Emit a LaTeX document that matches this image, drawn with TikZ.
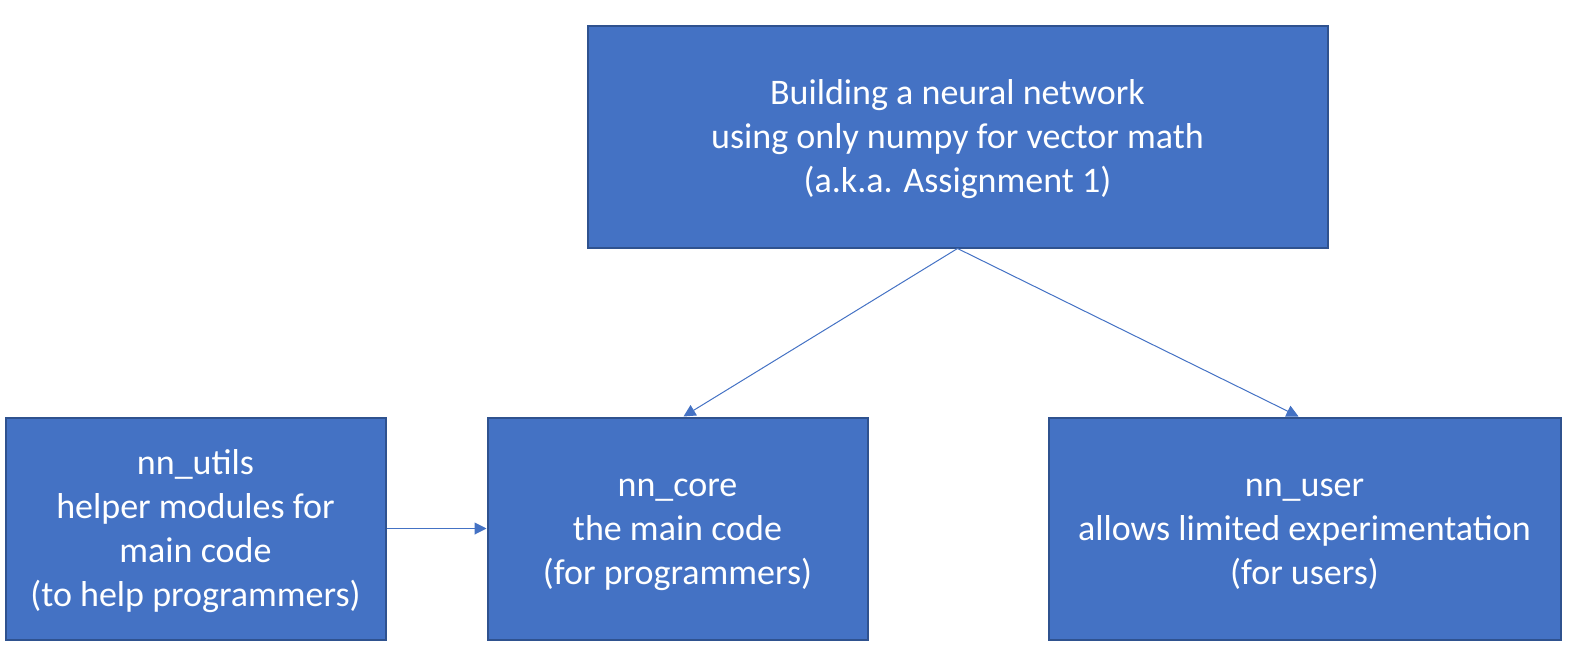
\documentclass[tikz,border=0pt]{standalone}
\usepackage{fontspec}
\setmainfont{Carlito}
\usetikzlibrary{arrows.meta,positioning,calc}
\definecolor{boxblue}{HTML}{4472C4}
\definecolor{boxedge}{HTML}{2F528F}
\newcommand\lnstrut{\rule[-0.269em]{0pt}{1.221em}}

\begin{document}
\begin{tikzpicture}[x=1pt, y=-1pt,
  font=\fontsize{36}{44}\selectfont, >={Triangle[length=12pt, width=12pt]},
  blk/.style={draw=boxedge, line width=2pt, fill=boxblue, text=white, align=center, minimum height=222pt, inner sep=4pt},
  link/.style={->, draw=boxblue, line width=1pt}]
\useasboundingbox (0,0) rectangle (1582,657);
\node[blk, minimum width=740pt] (goal) at (957.5,136.5)
  {\lnstrut Building a neural network\\\lnstrut using only numpy for vector math\\\lnstrut (a.k.a. Assignment 1)};
\node[blk, minimum width=380pt] (core) at (677.5,528.5)
  {\lnstrut nn\_core\\\lnstrut the main code\\\lnstrut (for programmers)};
\node[blk, minimum width=380pt, left=100pt of core] (utils)
  {\lnstrut nn\_utils\\\lnstrut helper modules for\\\lnstrut main code\\\lnstrut (to help programmers)};
\node[blk, minimum width=512pt] (user) at (1304.5,528.5)
  {\lnstrut nn\_user\\\lnstrut allows limited experimentation\\\lnstrut (for users)};
\draw[link] (goal.south) -- ([xshift=6pt]core.north);
\draw[link] (goal.south) -- ([xshift=-6pt]user.north);
\draw[link] (utils) -- (core);
\end{tikzpicture}
\end{document}
